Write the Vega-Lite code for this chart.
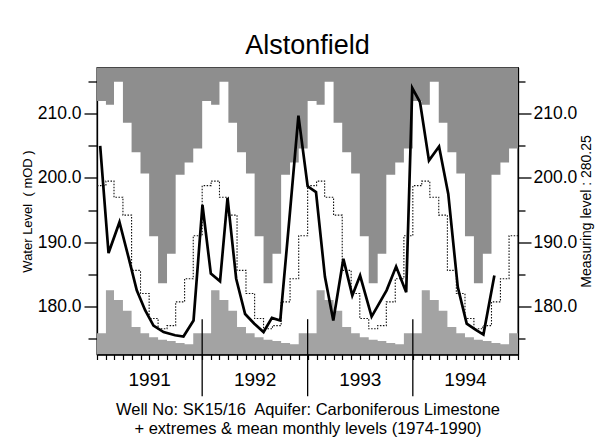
{
  "$schema": "https://vega.github.io/schema/vega-lite/v6.json",
  "width": 421,
  "height": 287,
  "autosize": "none",
  "padding": {"left": 97, "top": 67.5, "right": 82, "bottom": 85.5},
  "background": "white",
  "title": {"text": "Alstonfield", "fontSize": 27, "fontWeight": "normal", "font": "Liberation Sans", "color": "black", "anchor": "middle", "frame": "group", "baseline": "alphabetic", "offset": -13},
  "config": {"font": "Liberation Sans", "view": {"stroke": "black", "strokeWidth": 1.3}},
  "datasets": {
    "clim": [
      {"date": "1991-01-01", "max": 212.0, "mean": 198.8, "min": 175.8},
      {"date": "1991-02-01", "max": 211.4, "mean": 199.5, "min": 182.5},
      {"date": "1991-03-01", "max": 215.0, "mean": 197.0, "min": 181.0},
      {"date": "1991-04-01", "max": 208.6, "mean": 194.2, "min": 179.3},
      {"date": "1991-05-01", "max": 204.0, "mean": 185.6, "min": 176.8},
      {"date": "1991-06-01", "max": 200.7, "mean": 182.0, "min": 175.8},
      {"date": "1991-07-01", "max": 190.9, "mean": 178.1, "min": 175.2},
      {"date": "1991-08-01", "max": 183.6, "mean": 176.5, "min": 174.8},
      {"date": "1991-09-01", "max": 188.2, "mean": 177.0, "min": 174.6},
      {"date": "1991-10-01", "max": 200.5, "mean": 180.7, "min": 174.3},
      {"date": "1991-11-01", "max": 202.4, "mean": 184.3, "min": 174.1},
      {"date": "1991-12-01", "max": 204.6, "mean": 191.0, "min": 175.8},
      {"date": "1992-01-01", "max": 212.0, "mean": 198.8, "min": 175.8},
      {"date": "1992-02-01", "max": 211.4, "mean": 199.5, "min": 182.5},
      {"date": "1992-03-01", "max": 215.0, "mean": 197.0, "min": 181.0},
      {"date": "1992-04-01", "max": 208.6, "mean": 194.2, "min": 179.3},
      {"date": "1992-05-01", "max": 204.0, "mean": 185.6, "min": 176.8},
      {"date": "1992-06-01", "max": 200.7, "mean": 182.0, "min": 175.8},
      {"date": "1992-07-01", "max": 190.9, "mean": 178.1, "min": 175.2},
      {"date": "1992-08-01", "max": 183.6, "mean": 176.5, "min": 174.8},
      {"date": "1992-09-01", "max": 188.2, "mean": 177.0, "min": 174.6},
      {"date": "1992-10-01", "max": 200.5, "mean": 180.7, "min": 174.3},
      {"date": "1992-11-01", "max": 202.4, "mean": 184.3, "min": 174.1},
      {"date": "1992-12-01", "max": 204.6, "mean": 191.0, "min": 175.8},
      {"date": "1993-01-01", "max": 212.0, "mean": 198.8, "min": 175.8},
      {"date": "1993-02-01", "max": 211.4, "mean": 199.5, "min": 182.5},
      {"date": "1993-03-01", "max": 215.0, "mean": 197.0, "min": 181.0},
      {"date": "1993-04-01", "max": 208.6, "mean": 194.2, "min": 179.3},
      {"date": "1993-05-01", "max": 204.0, "mean": 185.6, "min": 176.8},
      {"date": "1993-06-01", "max": 200.7, "mean": 182.0, "min": 175.8},
      {"date": "1993-07-01", "max": 190.9, "mean": 178.1, "min": 175.2},
      {"date": "1993-08-01", "max": 183.6, "mean": 176.5, "min": 174.8},
      {"date": "1993-09-01", "max": 188.2, "mean": 177.0, "min": 174.6},
      {"date": "1993-10-01", "max": 200.5, "mean": 180.7, "min": 174.3},
      {"date": "1993-11-01", "max": 202.4, "mean": 184.3, "min": 174.1},
      {"date": "1993-12-01", "max": 204.6, "mean": 191.0, "min": 175.8},
      {"date": "1994-01-01", "max": 212.0, "mean": 198.8, "min": 175.8},
      {"date": "1994-02-01", "max": 211.4, "mean": 199.5, "min": 182.5},
      {"date": "1994-03-01", "max": 215.0, "mean": 197.0, "min": 181.0},
      {"date": "1994-04-01", "max": 208.6, "mean": 194.2, "min": 179.3},
      {"date": "1994-05-01", "max": 204.0, "mean": 185.6, "min": 176.8},
      {"date": "1994-06-01", "max": 200.7, "mean": 182.0, "min": 175.8},
      {"date": "1994-07-01", "max": 190.9, "mean": 178.1, "min": 175.2},
      {"date": "1994-08-01", "max": 183.6, "mean": 176.5, "min": 174.8},
      {"date": "1994-09-01", "max": 188.2, "mean": 177.0, "min": 174.6},
      {"date": "1994-10-01", "max": 200.5, "mean": 180.7, "min": 174.3},
      {"date": "1994-11-01", "max": 202.4, "mean": 184.3, "min": 174.1},
      {"date": "1994-12-01", "max": 204.6, "mean": 191.0, "min": 175.8},
      {"date": "1995-01-01", "max": 204.6, "mean": 191.0, "min": 175.8}
    ],
    "levels": [
      {"date": "1991-01-12", "level": 205.0},
      {"date": "1991-02-10", "level": 188.3},
      {"date": "1991-03-20", "level": 193.1},
      {"date": "1991-04-20", "level": 187.7},
      {"date": "1991-05-19", "level": 182.5},
      {"date": "1991-06-17", "level": 179.4},
      {"date": "1991-07-16", "level": 177.0},
      {"date": "1991-08-20", "level": 176.0},
      {"date": "1991-09-29", "level": 175.5},
      {"date": "1991-10-28", "level": 175.3},
      {"date": "1991-12-02", "level": 177.8},
      {"date": "1992-01-02", "level": 195.8},
      {"date": "1992-01-31", "level": 185.1},
      {"date": "1992-03-03", "level": 183.9},
      {"date": "1992-03-29", "level": 196.9},
      {"date": "1992-04-28", "level": 184.3},
      {"date": "1992-05-29", "level": 178.8},
      {"date": "1992-06-30", "level": 177.3},
      {"date": "1992-08-01", "level": 176.0},
      {"date": "1992-08-30", "level": 178.2},
      {"date": "1992-09-28", "level": 177.8},
      {"date": "1992-10-30", "level": 193.8},
      {"date": "1992-11-30", "level": 209.7},
      {"date": "1993-01-01", "level": 198.7},
      {"date": "1993-01-30", "level": 197.8},
      {"date": "1993-03-02", "level": 184.6},
      {"date": "1993-03-31", "level": 177.8},
      {"date": "1993-05-05", "level": 187.4},
      {"date": "1993-06-05", "level": 181.7},
      {"date": "1993-07-02", "level": 184.8},
      {"date": "1993-08-11", "level": 178.4},
      {"date": "1993-10-02", "level": 182.5},
      {"date": "1993-11-04", "level": 186.2},
      {"date": "1993-12-09", "level": 182.2},
      {"date": "1993-12-30", "level": 214.0},
      {"date": "1994-01-26", "level": 211.8},
      {"date": "1994-02-26", "level": 202.7},
      {"date": "1994-04-02", "level": 204.9},
      {"date": "1994-05-04", "level": 197.5},
      {"date": "1994-06-06", "level": 183.0},
      {"date": "1994-07-07", "level": 177.3},
      {"date": "1994-08-05", "level": 176.4},
      {"date": "1994-09-03", "level": 175.6},
      {"date": "1994-10-11", "level": 184.8}
    ],
    "years": [
      {"date": "1992-01-01"},
      {"date": "1993-01-01"},
      {"date": "1994-01-01"}
    ]
  },
  "layer": [
    {
      "data": {"name": "clim"},
      "mark": {"type": "area", "interpolate": "step-after", "color": "#8e8e8e", "opacity": 1},
      "encoding": {
        "x": {
          "field": "date", "type": "temporal",
          "scale": {"domain": [{"year": 1991, "month": 1, "date": 1}, {"year": 1995, "month": 1, "date": 1}]},
          "axis": {
            "orient": "bottom",
            "tickCount": {"interval": "month", "step": 1},
            "labelExpr": "month(datum.value) == 6 ? timeFormat(datum.value, '%Y') : ''",
            "labelOverlap": false, "labelFlush": false,
            "ticks": true, "tickOpacity": 1,
            "tickSize": 5, "tickColor": "black", "tickWidth": 1.2, "domainColor": "black", "domainWidth": 1.3,
            "labelFontSize": 19, "labelColor": "black", "labelPadding": 11,
            "grid": false, "zindex": 2,
            "title": ["Well No: SK15/16\u00a0 Aquifer: Carboniferous Limestone", "+ extremes & mean monthly levels (1974-1990)"],
            "titleFontSize": 16.5, "titleFontWeight": "normal", "titleColor": "black", "titlePadding": 12
          }
        },
        "y": {"field": "max", "type": "quantitative", "scale": {"domain": [172.5, 217.2], "nice": false, "zero": false}, "axis": null},
        "y2": {"datum": 217.2}
      }
    },
    {
      "data": {"name": "clim"},
      "mark": {"type": "area", "interpolate": "step-after", "color": "#a3a3a3", "opacity": 1},
      "encoding": {
        "x": {"field": "date", "type": "temporal"},
        "y": {"field": "min", "type": "quantitative", "scale": {"domain": [172.5, 217.2], "nice": false, "zero": false}, "axis": null},
        "y2": {"datum": 172.5}
      }
    },
    {
      "data": {"name": "clim"},
      "mark": {"type": "line", "interpolate": "step-after", "color": "#111111", "strokeWidth": 1.1, "strokeDash": [1.5, 1.5]},
      "encoding": {
        "x": {"field": "date", "type": "temporal"},
        "y": {
          "field": "mean", "type": "quantitative",
          "scale": {"domain": [172.5, 217.2], "nice": false, "zero": false},
          "axis": {
            "orient": "right",
            "values": [175, 180, 185, 190, 195, 200, 205, 210, 215],
            "labelExpr": "datum.value % 10 == 0 ? format(datum.value, '.1f') : ''",
            "tickSize": {"condition": {"test": "datum.value % 10 == 0", "value": 13}, "value": 7},
            "tickColor": "black", "tickWidth": 1.3, "domainColor": "black", "domainWidth": 1.3,
            "labelFontSize": 17.5, "labelColor": "black", "labelPadding": 2,
            "grid": false,
            "title": "Measuring level : 280.25",
            "titleAngle": 270, "titleBaseline": "top",
            "titleFontSize": 14, "titleFontWeight": "normal", "titleColor": "black", "titlePadding": 3
          }
        }
      }
    },
    {
      "data": {"name": "levels"},
      "mark": {"type": "line", "color": "black", "strokeWidth": 2.7},
      "encoding": {
        "x": {"field": "date", "type": "temporal"},
        "y": {
          "field": "level", "type": "quantitative",
          "scale": {"domain": [172.5, 217.2], "nice": false, "zero": false},
          "axis": {
            "orient": "left",
            "values": [175, 180, 185, 190, 195, 200, 205, 210, 215],
            "labelExpr": "datum.value % 10 == 0 ? format(datum.value, '.1f') : ''",
            "tickSize": {"condition": {"test": "datum.value % 10 == 0", "value": 13}, "value": 9},
            "tickColor": "black", "tickWidth": 1.3, "domainColor": "black", "domainWidth": 1.3,
            "labelFontSize": 17.5, "labelColor": "black", "labelPadding": 3,
            "grid": false,
            "title": "Water Level\u00a0 ( mOD )",
            "titleFontSize": 13, "titleFontWeight": "normal", "titleColor": "black", "titlePadding": 3
          }
        }
      }
    },
    {
      "data": {"name": "years"},
      "mark": {"type": "rule", "color": "black", "strokeWidth": 1.3},
      "encoding": {
        "x": {"field": "date", "type": "temporal"},
        "y": {"datum": 178.0, "scale": {"domain": [172.5, 217.2], "nice": false, "zero": false}, "axis": null},
        "y2": {"datum": 166.0}
      }
    }
  ],
  "resolve": {"axis": {"y": "independent"}}
}
